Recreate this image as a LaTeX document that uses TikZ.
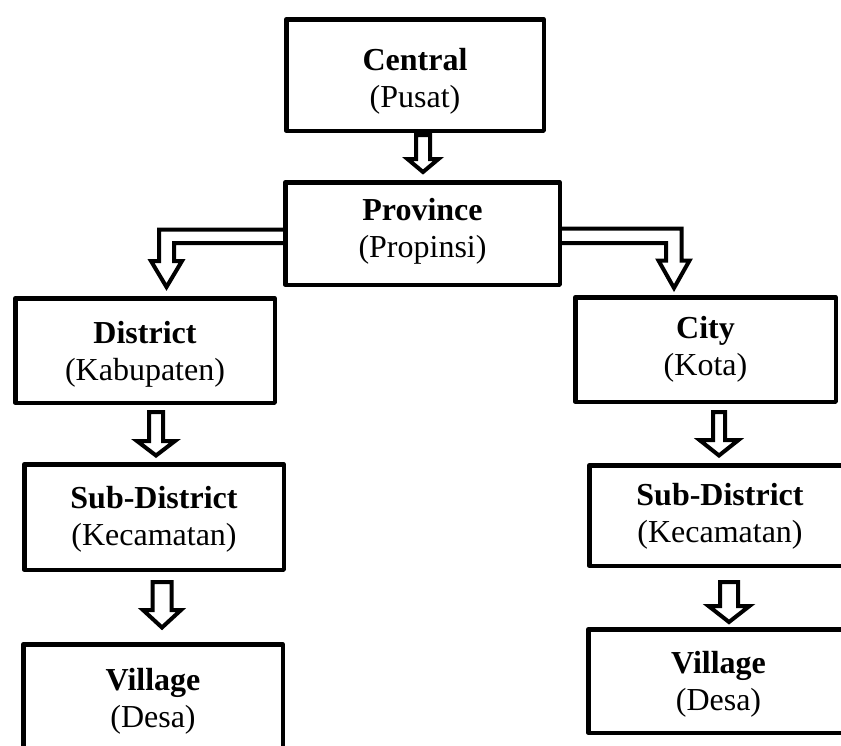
\documentclass[tikz,border=0pt]{standalone}
\usepackage{fontspec}
\setmainfont{Liberation Serif}
\usetikzlibrary{calc}
\tikzset{
  box/.style={draw, line width=4.5pt, rectangle, line join=round, align=center,
    inner sep=0pt, text depth=10pt, font=\fontsize{32}{37}\selectfont},
  blk/.style={draw, line width=4pt, line join=miter}
}
% #1 from node, #2 to node, #3 x, #4 shaft half width, #5 head half width,
% #6 head length, #7 top gap, #8 tip gap
\newcommand\vblockarrow[8]{%
  \draw[blk] let \p1=(#1.south), \p2=(#2.north) in
    ({(#3-#4)*1pt},{\y1-#7pt}) -- ({(#3-#4)*1pt},{\y2+(#8+#6)*1pt})
    -- ({(#3-#5)*1pt},{\y2+(#8+#6)*1pt}) -- ({#3*1pt},{\y2+#8pt})
    -- ({(#3+#5)*1pt},{\y2+(#8+#6)*1pt}) -- ({(#3+#4)*1pt},{\y2+(#8+#6)*1pt})
    -- ({(#3+#4)*1pt},{\y1-#7pt}) -- cycle;
}
\begin{document}
\begin{tikzpicture}[x=1pt,y=-1pt]
\useasboundingbox (0,0) rectangle (841,745);
\clip (0,0) rectangle (841,745);
\fill[white] (0,0) rectangle (841,745);

\node[box, text height=74pt, minimum width=257.5pt, minimum height=111.5pt] (central) at (415,75)
  {\textbf{Central}\\(Pusat)};
\node[box, text height=57pt, minimum width=274.5pt, minimum height=102.5pt] (province) at (422.5,233.5)
  {\textbf{Province}\\(Propinsi)};
\node[box, text height=69pt, minimum width=259.5pt, minimum height=104.5pt] (district) at (145,350.5)
  {\textbf{District}\\(Kabupaten)};
\node[box, text height=61pt, minimum width=260.5pt, minimum height=104.5pt] (city) at (705.5,349.5)
  {\textbf{City}\\(Kota)};
\node[box, text height=66pt, minimum width=259.5pt, minimum height=105.5pt] (subl) at (154,517)
  {\textbf{Sub-District}\\(Kecamatan)};
\node[box, text height=63pt, minimum width=261.5pt, minimum height=100.5pt] (subr) at (720,515.5)
  {\textbf{Sub-District}\\(Kecamatan)};
\node[box, text height=70pt, minimum width=259.5pt, minimum height=105.5pt] (vill) at (153,697)
  {\textbf{Village}\\(Desa)};
\node[box, text height=68pt, minimum width=260.5pt, minimum height=103.5pt] (vilr) at (718.5,681)
  {\textbf{Village}\\(Desa)};

% straight block arrows
\vblockarrow{central}{province}{423}{7}{15.5}{13}{2}{8}
\vblockarrow{district}{subl}{156}{7}{19}{14.5}{7}{6.5}
\vblockarrow{subl}{vill}{162}{9.5}{19}{17.5}{10}{14.5}
\vblockarrow{city}{subr}{719}{6}{19.5}{15.5}{8}{7.5}
\vblockarrow{subr}{vilr}{729}{9}{20.5}{16}{14}{5}

% elbow block arrows from the province
\draw[blk] let \p1=(province.west), \p2=(district.north) in
  ({\x1+2pt},-229.5pt) -- (159pt,-229.5pt) -- (159pt,-261pt) -- (151pt,-261pt)
  -- (166.5pt,{\y2+9pt}) -- (182pt,-261pt) -- (174pt,-261pt) -- (174pt,-243pt)
  -- ({\x1+2pt},-243pt);
\draw[blk] let \p1=(province.east), \p2=(city.north) in
  ({\x1-2pt},-228.5pt) -- (681.5pt,-228.5pt) -- (681.5pt,-260.5pt) -- (689.5pt,-260.5pt)
  -- (674pt,{\y2+7pt}) -- (658.5pt,-260.5pt) -- (666pt,-260.5pt) -- (666pt,-243pt)
  -- ({\x1-2pt},-243pt);
\end{tikzpicture}
\end{document}
